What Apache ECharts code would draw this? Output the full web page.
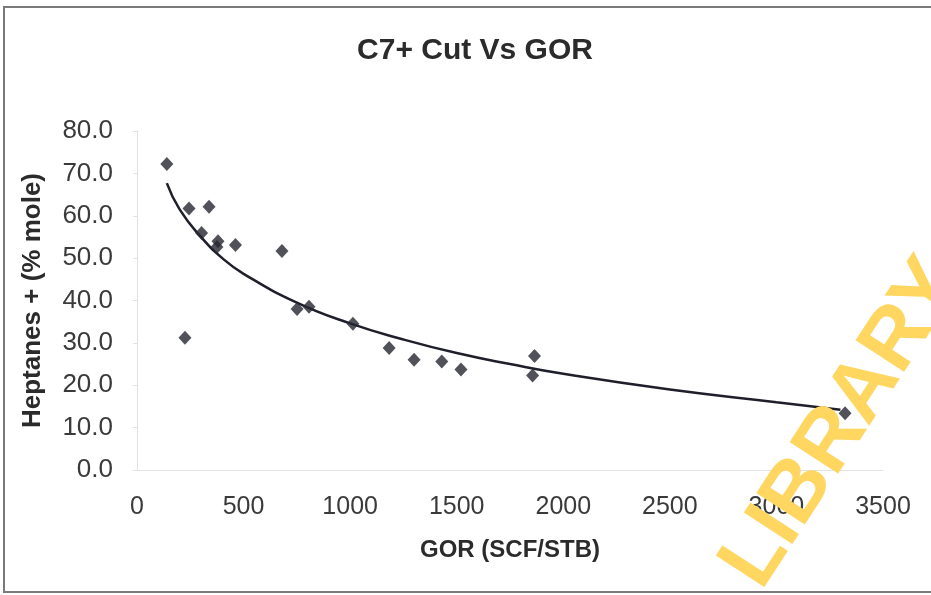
<!DOCTYPE html>
<html>
<head>
<meta charset="utf-8">
<script src="https://cdn.jsdelivr.net/npm/echarts@6/dist/echarts.min.js"></script>
<style>
html,body{margin:0;padding:0;background:#fff;}
#chart{width:931px;height:595px;}
</style>
</head>
<body>
<div id="chart"></div>
<script>
// Measured data points (GOR, C7+ mole %)
var gor = [140, 244, 338, 303, 380, 375, 462, 680, 225, 751, 807, 1013, 1183, 1300, 1430, 1520, 1865, 1856, 3322];
var c7  = [72.2, 61.7, 62.1, 55.9, 54.0, 52.6, 53.1, 51.7, 31.2, 38.0, 38.5, 34.5, 28.8, 26.0, 25.6, 23.7, 26.9, 22.3, 13.4];
// Trend curve
var trendGor = [140, 200, 300, 400, 500, 750, 1000, 1250, 1500, 1750, 2000, 2500, 3000, 3300];
var trendC7  = [67.7, 61.5, 55.0, 50.0, 46.3, 39.5, 34.6, 30.8, 27.6, 25.0, 22.7, 19.0, 16.0, 14.2];

var titleText = 'C7+ Cut Vs GOR';
var xName = 'GOR (SCF/STB)';
var yName = 'Heptanes + (% mole)';
var watermark = 'LIBRARY';

var FONT = '"Liberation Sans", Arial, sans-serif';
var chart = echarts.init(document.getElementById('chart'), null, {renderer: 'canvas'});

var pts = gor.map(function (g, i) { return [g, c7[i]]; });
var trend = trendGor.map(function (g, i) { return [g, trendC7[i]]; });

chart.setOption({
  backgroundColor: '#ffffff',
  animation: false,
  title: {
    text: titleText,
    left: 470,
    top: 31,
    textAlign: 'center',
    textStyle: {fontFamily: FONT, fontSize: 30, fontWeight: 'bold', color: '#2b2b2b'}
  },
  grid: {left: 137, right: 48, top: 131, bottom: 125, containLabel: false},
  xAxis: {
    type: 'value', min: 0, max: 3500, interval: 500,
    name: xName, nameLocation: 'middle', nameGap: 68,
    nameTextStyle: {fontFamily: FONT, fontSize: 24, fontWeight: 'bold', color: '#2b2b2b'},
    axisLine: {show: true, lineStyle: {color: '#e2e2e2', width: 1}},
    axisTick: {show: false},
    splitLine: {show: false},
    axisLabel: {fontFamily: FONT, fontSize: 25, color: '#3a3a3a', margin: 25,
      formatter: function (v) { return String(v); }}
  },
  yAxis: {
    type: 'value', min: 0, max: 80, interval: 10,
    name: yName, nameLocation: 'middle', nameGap: 91, nameRotate: 90,
    nameTextStyle: {fontFamily: FONT, fontSize: 26, fontWeight: 'bold', color: '#2b2b2b'},
    axisLine: {show: true, lineStyle: {color: '#e2e2e2', width: 1}},
    axisTick: {show: true, length: 4, lineStyle: {color: '#e2e2e2'}},
    splitLine: {show: false},
    axisLabel: {fontFamily: FONT, fontSize: 26, color: '#3a3a3a', margin: 24,
      formatter: function (v) { return v.toFixed(1); }}
  },
  series: [
    {
      type: 'line', data: trend, smooth: true, symbol: 'none',
      lineStyle: {color: '#1e1f2a', width: 2.5}, z: 2
    },
    {
      type: 'scatter', data: pts, symbol: 'diamond', symbolSize: [13, 14],
      itemStyle: {color: '#26272f'}, z: 3
    }
  ],
  graphic: [
    {
      type: 'rect', shape: {x: 4, y: 7, width: 940, height: 585},
      style: {fill: null, stroke: '#7a7a7a', lineWidth: 2}, silent: true, z: 0
    },
    {
      type: 'text', x: 777, y: 602, rotation: 57 * Math.PI / 180,
      style: {text: watermark, fontFamily: FONT, fontSize: 84, fontWeight: 'bold',
        fill: '#FFD660', textAlign: 'left', textVerticalAlign: 'bottom'},
      silent: true, z: 100
    }
  ]
});
</script>
</body>
</html>
